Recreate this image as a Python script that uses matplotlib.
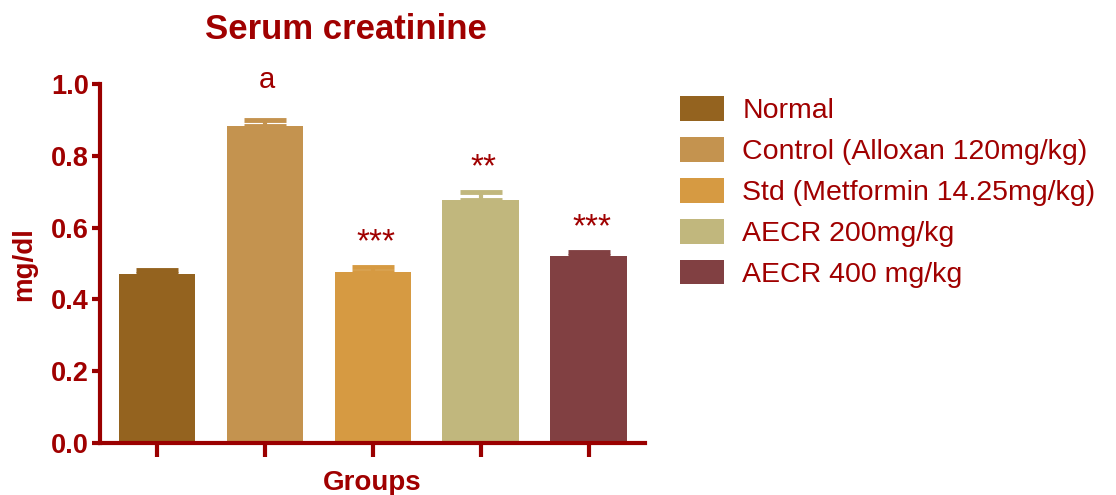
import matplotlib
matplotlib.use("Agg")
import matplotlib.pyplot as plt
from matplotlib.patches import Patch

plt.rcParams['font.family'] = ['Liberation Sans', 'DejaVu Sans']

groups = ["Normal", "Control (Alloxan 120mg/kg)", "Std (Metformin 14.25mg/kg)",
          "AECR 200mg/kg", "AECR 400 mg/kg"]
means = [0.470, 0.884, 0.477, 0.678, 0.522]
sems = [0.012, 0.017, 0.013, 0.022, 0.011]
marks = ["", "a", "***", "**", "***"]
colors = ["#94631F", "#C4934F", "#D69A42", "#C1B77D", "#814042"]
yticks = [0.0, 0.2, 0.4, 0.6, 0.8, 1.0]

red = "#A00000"
axis_red = "#9A0000"

fig = plt.figure(figsize=(11.16, 4.95), dpi=100)
ax = fig.add_axes([0.0896, 0.105, 0.488, 0.725])

x = list(range(len(groups)))
ax.bar(x, means, width=0.71, color=colors, zorder=2)
for xi, m, s, c in zip(x, means, sems, colors):
    ax.errorbar(xi, m, yerr=[[0], [s]], fmt='none', ecolor=c,
                elinewidth=3, capsize=15, capthick=3.5, zorder=3)

# significance marks above the bars
for xi, m, s, t in zip(x, means, sems, marks):
    if t == "a":
        ax.text(xi + 0.02, 1.012, t, ha='center', va='center', fontsize=21,
                color=red, clip_on=False)
    elif t:
        ax.text(xi + 0.03, m + s + 0.068, t, ha='center', va='center',
                fontsize=24, color=red)

ax.set_xlim(-0.53, 4.52)
ax.set_ylim(0, 1.0)
ax.set_yticks(yticks)
ax.set_yticklabels([f"{v:.1f}" for v in yticks])
ax.set_xticks(x)
ax.set_xticklabels([])

for side in ("top", "right"):
    ax.spines[side].set_visible(False)
for side in ("left", "bottom"):
    ax.spines[side].set_color(axis_red)
    ax.spines[side].set_linewidth(3)
ax.tick_params(axis='y', colors=axis_red, length=6, width=3, labelsize=19.5,
               labelcolor=red, pad=2)
ax.tick_params(axis='x', colors=axis_red, length=10, width=3)
for lbl in ax.get_yticklabels():
    lbl.set_fontweight('bold')

ax.set_ylabel("mg/dl", fontsize=20, fontweight='bold', color=red, labelpad=10)
ax.set_xlabel("Groups", fontsize=20, fontweight='bold', color=red, labelpad=6)
fig.text(0.31, 0.94, "Serum creatinine", ha='center', va='center',
         fontsize=25, fontweight='bold', color=red)

handles = [Patch(facecolor=c, edgecolor='none') for c in colors]
leg = fig.legend(handles, groups, loc='upper left', bbox_to_anchor=(0.586, 0.857),
                 frameon=False, fontsize=20.5, handlelength=1.55, handleheight=0.95,
                 handletextpad=0.65, labelspacing=0.45, labelcolor=red)

fig.savefig("out.png", dpi=100)
